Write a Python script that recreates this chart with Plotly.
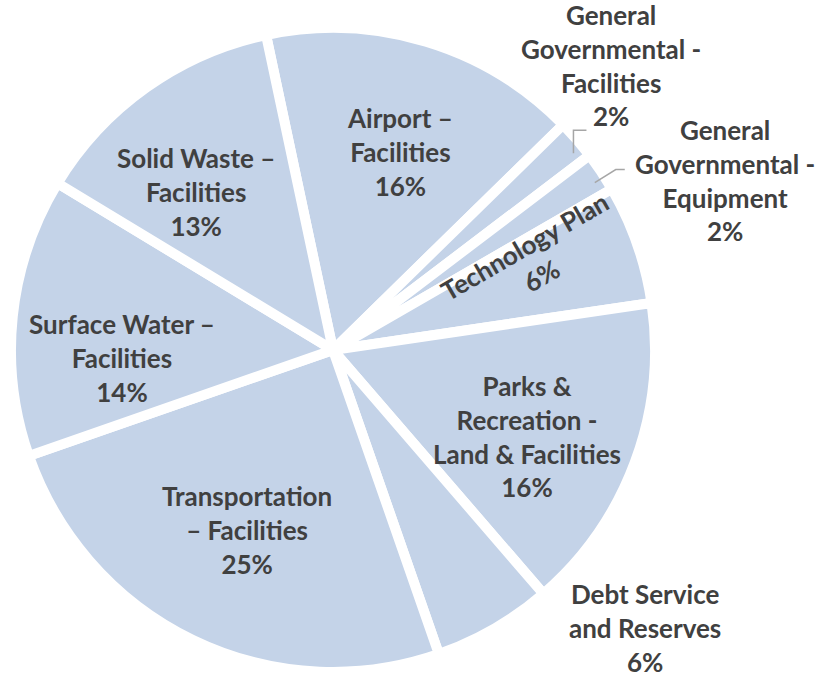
import math
import plotly.graph_objects as go

# ---- data ----
labels = [
    "Airport –<br>Facilities",
    "General<br>Governmental -<br>Facilities",
    "General<br>Governmental -<br>Equipment",
    "Technology Plan",
    "Parks &<br>Recreation -<br>Land & Facilities",
    "Debt Service<br>and Reserves",
    "Transportation<br>– Facilities",
    "Surface Water –<br>Facilities",
    "Solid Waste –<br>Facilities",
]
values = [16, 2, 2, 6, 16, 6, 25, 14, 13]

# ---- layout / style config ----
W, H = 816, 679
CX, CY, R = 333, 350, 322          # pie centre and radius in pixels
ROTATION = -12
TEXT_COLOR = "#404040"
FONT = dict(family="Lato", size=26, color=TEXT_COLOR, weight="bold")
# per-label placement: (radius fraction, angle nudge in degrees, text angle)
placement = [
    (0.65, 2.0, 0),
    (1.236, -4.8, 0),
    (1.325, 10.2, 0),
    (0.68, -4.9, -30),
    (0.66, 3.5, 0),
    (1.296, -18.3, 0),
    (0.62, -0.2, 0),
    (0.655, -8.2, 0),
    (0.65, -5.5, 0),
]
leaders = {1: "vertical", 2: "diagonal"}

fig = go.Figure(go.Pie(
    labels=labels,
    values=values,
    sort=False,
    direction="clockwise",
    rotation=ROTATION,
    textinfo="none",
    marker=dict(colors=["#c4d3e8"] * len(values), line=dict(color="white", width=10)),
    domain=dict(x=[(CX - R) / W, (CX + R) / W], y=[(H - CY - R) / H, (H - CY + R) / H]),
    showlegend=False,
    hoverinfo="skip",
    automargin=False,
))

total = sum(values)


def polar(angle_deg, r):
    a = math.radians(angle_deg)
    return CX + r * math.sin(a), CY - r * math.cos(a)


def to_paper(px, py):
    return px / W, 1 - py / H


annotations = []
shapes = []
start = ROTATION
for i, (lab, v) in enumerate(zip(labels, values)):
    span = v / total * 360
    mid = start + span / 2
    start += span
    rf, nudge, tang = placement[i]
    px, py = polar(mid + nudge, R * rf)
    x, y = to_paper(px, py)
    annotations.append(dict(
        x=x, y=y, xref="paper", yref="paper",
        text=f"{lab}<br>{v}%", showarrow=False,
        xanchor="center", yanchor="middle", align="center",
        textangle=tang, font=FONT,
    ))
    if i in leaders:
        ex, ey = polar(mid + (1.5 if leaders[i] == "vertical" else 1.0), R * 0.965)
        if leaders[i] == "vertical":
            pts = [(ex, ey), (ex, ey - 23), (ex + 13, ey - 23)]
        else:
            pts = [(ex, ey), (ex + 21, ey - 13), (ex + 30, ey - 13)]
        path = "M " + " L ".join(f"{to_paper(a, b)[0]:.5f},{to_paper(a, b)[1]:.5f}" for a, b in pts)
        shapes.append(dict(type="path", path=path, xref="paper", yref="paper",
                           line=dict(color="#a6a6a6", width=1.5)))

fig.update_layout(
    width=W,
    height=H,
    margin=dict(l=0, r=0, t=0, b=0),
    paper_bgcolor="white",
    plot_bgcolor="white",
    font=dict(family="Lato", color=TEXT_COLOR),
    annotations=annotations,
    shapes=shapes,
)

fig.write_html("out.html", post_script="document.body.style.margin='0';",
               config={"displayModeBar": False})
